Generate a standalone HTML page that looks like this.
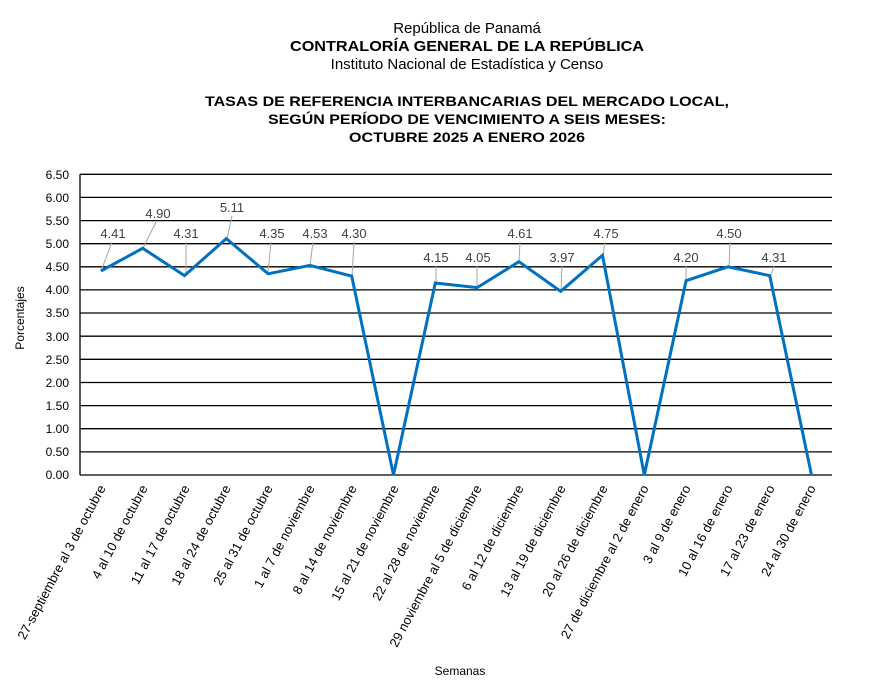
<!DOCTYPE html>
<html><head><meta charset="utf-8"><style>
html,body{margin:0;padding:0;background:#fff;}
svg{display:block;font-family:"Liberation Sans",Arial,sans-serif;}
</style></head><body>
<svg width="879" height="685" viewBox="0 0 879 685" xmlns="http://www.w3.org/2000/svg">
<g text-anchor="middle" fill="#000">
<text x="467" y="33" font-size="15">República de Panamá</text>
<text x="467" y="51" font-size="15" font-weight="bold" textLength="354" lengthAdjust="spacingAndGlyphs">CONTRALORÍA GENERAL DE LA REPÚBLICA</text>
<text x="467" y="69" font-size="15">Instituto Nacional de Estadística y Censo</text>
<text x="467" y="106" font-size="14" font-weight="bold" textLength="524" lengthAdjust="spacingAndGlyphs">TASAS DE REFERENCIA INTERBANCARIAS DEL MERCADO LOCAL,</text>
<text x="467" y="124" font-size="14" font-weight="bold" textLength="398" lengthAdjust="spacingAndGlyphs">SEGÚN PERÍODO DE VENCIMIENTO A SEIS MESES:</text>
<text x="467" y="142" font-size="14" font-weight="bold" textLength="236" lengthAdjust="spacingAndGlyphs">OCTUBRE 2025 A ENERO 2026</text>
</g>
<g stroke="#000" stroke-width="1.3">
<line x1="80" y1="174.3" x2="832" y2="174.3"/><line x1="80" y1="197.4" x2="832" y2="197.4"/><line x1="80" y1="220.6" x2="832" y2="220.6"/><line x1="80" y1="243.7" x2="832" y2="243.7"/><line x1="80" y1="266.8" x2="832" y2="266.8"/><line x1="80" y1="289.9" x2="832" y2="289.9"/><line x1="80" y1="313.0" x2="832" y2="313.0"/><line x1="80" y1="336.2" x2="832" y2="336.2"/><line x1="80" y1="359.3" x2="832" y2="359.3"/><line x1="80" y1="382.5" x2="832" y2="382.5"/><line x1="80" y1="405.6" x2="832" y2="405.6"/><line x1="80" y1="428.7" x2="832" y2="428.7"/><line x1="80" y1="451.9" x2="832" y2="451.9"/><line x1="80" y1="475" x2="832" y2="475"/>
<line x1="80" y1="174.3" x2="80" y2="475"/>
</g>
<g font-size="12" text-anchor="end" fill="#000">
<text x="69" y="179">6.50</text><text x="69" y="202">6.00</text><text x="69" y="225">5.50</text><text x="69" y="248">5.00</text><text x="69" y="271">4.50</text><text x="69" y="294">4.00</text><text x="69" y="317">3.50</text><text x="69" y="341">3.00</text><text x="69" y="364">2.50</text><text x="69" y="387">2.00</text><text x="69" y="410">1.50</text><text x="69" y="433">1.00</text><text x="69" y="456">0.50</text><text x="69" y="479">0.00</text>
</g>
<text transform="translate(24,318) rotate(-90)" font-size="12" text-anchor="middle">Porcentajes</text>
<text x="460" y="675" font-size="12" text-anchor="middle">Semanas</text>
<g stroke="#a6a6a6" stroke-width="1" fill="none">
<line x1="101" y1="271" x2="112" y2="242"/><line x1="143" y1="248" x2="156" y2="222"/><line x1="186" y1="275" x2="186" y2="242"/><line x1="227" y1="239" x2="232" y2="216"/><line x1="268" y1="273" x2="271" y2="242"/><line x1="310" y1="265" x2="313" y2="242"/><line x1="352" y1="276" x2="354" y2="242"/><line x1="436" y1="283" x2="436" y2="266"/><line x1="477" y1="287" x2="477" y2="266"/><line x1="519" y1="262" x2="520" y2="242"/><line x1="561" y1="291" x2="562" y2="266"/><line x1="603" y1="255" x2="605" y2="242"/><line x1="686" y1="281" x2="686" y2="266"/><line x1="729" y1="267" x2="730" y2="242"/><line x1="771" y1="275" x2="774" y2="266"/>
</g>
<polyline fill="none" stroke="#0070c0" stroke-width="3" stroke-linejoin="miter" points="100.9,271.0 142.7,248.3 184.5,275.6 226.3,238.6 268.1,273.8 309.9,265.4 351.7,276.1 393.5,475 435.3,283.0 477.1,287.6 518.9,261.7 560.7,291.3 602.5,255.3 644.3,475 686.1,280.7 727.9,266.8 769.7,275.6 811.5,475"/>
<g font-size="13" fill="#404040" text-anchor="middle">
<text x="113" y="238">4.41</text><text x="158" y="218">4.90</text><text x="186" y="238">4.31</text><text x="232" y="212">5.11</text><text x="272" y="238">4.35</text><text x="315" y="238">4.53</text><text x="354" y="238">4.30</text><text x="436" y="262">4.15</text><text x="478" y="262">4.05</text><text x="520" y="238">4.61</text><text x="562" y="262">3.97</text><text x="606" y="238">4.75</text><text x="686" y="262">4.20</text><text x="729" y="238">4.50</text><text x="774" y="262">4.31</text>
</g>
<g font-size="13" text-anchor="end" fill="#000">
<text transform="translate(106,488) rotate(-62)">27-septiembre al 3 de octubre</text>
<text transform="translate(148,488) rotate(-62)">4 al 10 de octubre</text>
<text transform="translate(190,488) rotate(-62)">11 al 17 de octubre</text>
<text transform="translate(231,488) rotate(-62)">18 al 24 de octubre</text>
<text transform="translate(273,488) rotate(-62)">25 al 31 de octubre</text>
<text transform="translate(315,488) rotate(-62)">1 al 7 de noviembre</text>
<text transform="translate(357,488) rotate(-62)">8 al 14 de noviembre</text>
<text transform="translate(399,488) rotate(-62)">15 al 21 de noviembre</text>
<text transform="translate(440,488) rotate(-62)">22 al 28 de noviembre</text>
<text transform="translate(482,488) rotate(-62)">29 noviembre al 5 de diciembre</text>
<text transform="translate(524,488) rotate(-62)">6 al 12 de diciembre</text>
<text transform="translate(566,488) rotate(-62)">13 al 19 de diciembre</text>
<text transform="translate(608,488) rotate(-62)">20 al 26 de diciembre</text>
<text transform="translate(649,488) rotate(-62)">27 de diciembre al 2 de enero</text>
<text transform="translate(691,488) rotate(-62)">3 al 9 de enero</text>
<text transform="translate(733,488) rotate(-62)">10 al 16 de enero</text>
<text transform="translate(775,488) rotate(-62)">17 al 23 de enero</text>
<text transform="translate(816,488) rotate(-62)">24 al 30 de enero</text>
</g>
</svg>
</body></html>
